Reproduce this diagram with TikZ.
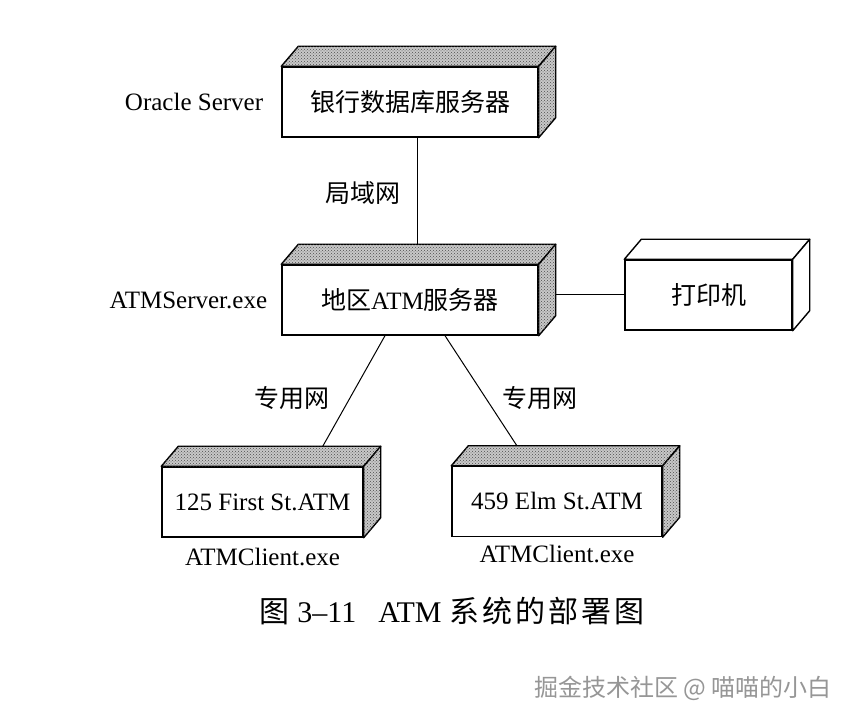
\documentclass[tikz,border=0pt]{standalone}
\usepackage{fontspec}
\setmainfont{Liberation Serif}
\newfontfamily\cjk{Noto Sans CJK SC}
\usetikzlibrary{positioning,patterns}
\definecolor{facegray}{RGB}{200,200,200}
\definecolor{marktext}{RGB}{150,150,150}
\pgfdeclarelayer{background}
\pgfsetlayers{background,main}

\tikzset{
  devnode/.style={draw, line width=1.4pt, fill=white, minimum height=70pt, inner sep=0pt, font=\fontsize{25}{30}\selectfont},
  devface/.style={draw, line width=1.4pt, line join=round, fill=facegray, postaction={pattern=crosshatch dots, pattern color=gray!60!black}},
  plainface/.style={draw, line width=1.4pt, line join=round, fill=white},
  link/.style={line width=1pt},
  tag/.style={inner sep=0pt, font=\fontsize{25}{30}\selectfont}
}

\begin{document}
\begin{tikzpicture}[x=1pt, y=1pt]

  \useasboundingbox (0,0) rectangle (860,720);

  % --- Nodes (front faces) ---
  \node[devnode, minimum width=256pt] (bankdb) at (410,618) {\cjk 银行数据库服务器};
  \node[devnode, minimum width=256pt] (regional) at (410,420) {{\cjk 地区}ATM{\cjk 服务器}};
  \node[devnode, minimum width=167pt] (printer) at (708.5,425) {\cjk 打印机};
  \node[devnode, minimum width=201pt] (atmone) at (262.5,218) {125 First St.ATM};
  \node[devnode, minimum width=210pt] (atmtwo) at (557,218.5) {459 Elm St.ATM};

  % --- Top and side faces ---
  \foreach \n in {bankdb, regional, atmone, atmtwo} {
    \filldraw[devface] (\n.north west) -- ++(17,20) -- ([shift={(17,20)}]\n.north east) -- (\n.north east) -- cycle;
    \filldraw[devface] (\n.north east) -- ++(17,20) -- ([shift={(17,20)}]\n.south east) -- (\n.south east) -- cycle;
  }
  \filldraw[plainface] (printer.north west) -- ++(17,20) -- ([shift={(17,20)}]printer.north east) -- (printer.north east) -- cycle;
  \filldraw[plainface] (printer.north east) -- ++(17,20) -- ([shift={(17,20)}]printer.south east) -- (printer.south east) -- cycle;

  % --- Component names ---
  \node[tag, left=18pt of bankdb] (oracle) {Oracle Server};
  \node[tag, left=14pt of regional] (atmserver) {ATMServer.exe};
  \node[tag, below=10pt of atmone] (clientone) {ATMClient.exe};
  \node[tag, below=8pt of atmtwo] (clienttwo) {ATMClient.exe};

  % --- Connections (behind the boxes) ---
  \begin{pgfonlayer}{background}
    \fill[white] (0,0) rectangle (860,720);
    \draw[link] ([xshift=7pt]bankdb.south) -- ([xshift=7pt]regional.north);
    \draw[link] (printer.west) -- (regional.east |- printer.west);
    \draw[link] ([xshift=-25pt]regional.south) -- ([xshift=49pt]atmone.north);
    \draw[link] ([xshift=35pt]regional.south) -- ([xshift=-27pt]atmtwo.north);
  \end{pgfonlayer}
  \node[tag] (lanlabel) at (363,527) {\cjk 局域网};
  \node[tag] (wanleft) at (292,322) {\cjk 专用网};
  \node[tag] (wanright) at (540,322) {\cjk 专用网};

  % --- Caption ---
  \node[font=\fontsize{30}{34}\selectfont] (caption) at (452,109)
    {{\cjk 图} 3--11\hspace{22pt}ATM {\cjk\addfontfeatures{LetterSpace=10} 系统的部署图}};
  \node[text=marktext, font=\fontsize{24}{28}\selectfont\cjk] (watermark) at (683,32) {掘金技术社区 @ 喵喵的小白};

\end{tikzpicture}
\end{document}
